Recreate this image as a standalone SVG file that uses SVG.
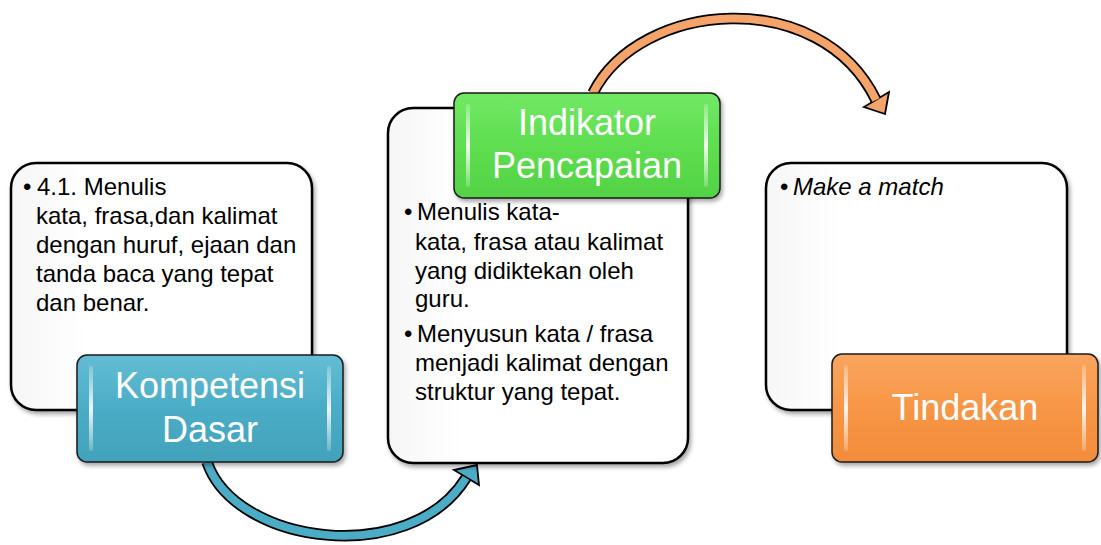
<svg xmlns="http://www.w3.org/2000/svg" width="1101" height="545" viewBox="0 0 1101 545">
<defs>
<filter id="sh" x="-10%" y="-10%" width="125%" height="130%">
<feDropShadow dx="2" dy="3" stdDeviation="2" flood-color="#000" flood-opacity="0.35"/>
</filter>
<linearGradient id="gBlue" x1="0" y1="0" x2="0" y2="1">
<stop offset="0" stop-color="#63BDD4"/><stop offset="0.5" stop-color="#4BACC6"/><stop offset="1" stop-color="#42A2BB"/>
</linearGradient>
<linearGradient id="gGreen" x1="0" y1="0" x2="0" y2="1">
<stop offset="0" stop-color="#72E865"/><stop offset="0.5" stop-color="#5EDE50"/><stop offset="1" stop-color="#53D245"/>
</linearGradient>
<linearGradient id="gOrange" x1="0" y1="0" x2="0" y2="1">
<stop offset="0" stop-color="#F9A55F"/><stop offset="0.5" stop-color="#F79646"/><stop offset="1" stop-color="#F28C3C"/>
</linearGradient>
<linearGradient id="gHi" x1="0" y1="0" x2="0" y2="1">
<stop offset="0" stop-color="#fff" stop-opacity="0.2"/><stop offset="0.5" stop-color="#fff" stop-opacity="0.9"/><stop offset="1" stop-color="#fff" stop-opacity="0.2"/>
</linearGradient>
<linearGradient id="gBox" x1="0" y1="0" x2="1" y2="0">
<stop offset="0" stop-color="#f6f6f6"/><stop offset="0.25" stop-color="#ffffff"/><stop offset="1" stop-color="#ffffff"/>
</linearGradient>
</defs>
<style>
.box{fill:url(#gBox);stroke:#000;stroke-width:2.5;filter:url(#sh)}
.lbl{stroke:#1a1a1a;stroke-width:1.5;filter:url(#sh)}
.hi{fill:url(#gHi)}
.t{font-family:"Liberation Sans",Arial,sans-serif;font-size:24px;fill:#000}
.lt{font-family:"Liberation Sans",Arial,sans-serif;font-size:36px;fill:#fff;text-anchor:middle}
.out{fill:none;stroke:#000;stroke-width:11.5}
.ab{fill:none;stroke:#4BACC6;stroke-width:8}
.ao{fill:none;stroke:#F4A46A;stroke-width:8}
</style>

<g id="connectors">
<g id="arrow-blue">
<path class="out" d="M207,462 C235,545 410,568 466,478"/>
<polygon points="477,465 454,470 479,485" fill="#4BACC6" stroke="#000" stroke-width="1.8"/>
<path class="ab" d="M207,462 C235,545 410,568 466,478"/>
</g>
<g id="arrow-orange">
<path class="out" d="M593,93 C640,0 820,-15 876,100"/>
<polygon points="885,114 864,107 889,92" fill="#F4A46A" stroke="#000" stroke-width="1.8"/>
<path class="ao" d="M593,93 C640,0 820,-15 876,100"/>
</g>
</g>

<g id="box-kd">
<rect class="box" x="11" y="163" width="301" height="247" rx="25"/>
<text class="t" x="23" y="195">•</text>
<text class="t" x="37" y="195">4.1. Menulis</text>
<text class="t" x="36" y="224">kata, frasa,dan kalimat</text>
<text class="t" x="36" y="253">dengan huruf, ejaan dan</text>
<text class="t" x="36" y="282">tanda baca yang tepat</text>
<text class="t" x="36" y="311">dan benar.</text>
</g>
<g id="label-kd">
<rect class="lbl" x="77" y="355" width="266" height="107" rx="10" fill="url(#gBlue)"/>
<rect class="hi" x="89" y="366" width="4" height="85" rx="2"/>
<rect class="hi" x="327" y="366" width="4" height="85" rx="2"/>
<text class="lt" x="210" y="398">Kompetensi</text>
<text class="lt" x="210" y="442">Dasar</text>
</g>

<g id="box-ip">
<rect class="box" x="388" y="108" width="300" height="355" rx="25"/>
<text class="t" x="404" y="220">•</text>
<text class="t" x="417" y="220">Menulis kata-</text>
<text class="t" x="415" y="250">kata, frasa atau kalimat</text>
<text class="t" x="415" y="279">yang didiktekan oleh</text>
<text class="t" x="415" y="307">guru.</text>
<text class="t" x="404" y="342">•</text>
<text class="t" x="417" y="342">Menyusun kata / frasa</text>
<text class="t" x="415" y="371">menjadi kalimat dengan</text>
<text class="t" x="415" y="400">struktur yang tepat.</text>
</g>
<g id="label-ip">
<rect class="lbl" x="454" y="93" width="266" height="105" rx="10" fill="url(#gGreen)"/>
<rect class="hi" x="466" y="104" width="4" height="83" rx="2"/>
<rect class="hi" x="704" y="104" width="4" height="83" rx="2"/>
<text class="lt" x="587" y="135">Indikator</text>
<text class="lt" x="587" y="178">Pencapaian</text>
</g>

<g id="box-t">
<rect class="box" x="766" y="163" width="301" height="247" rx="25"/>
<text class="t" x="780" y="195">•</text>
<text class="t" x="793" y="195" font-style="italic">Make a match</text>
</g>
<g id="label-t">
<rect class="lbl" x="832" y="354" width="266" height="108" rx="10" fill="url(#gOrange)"/>
<rect class="hi" x="844" y="365" width="4" height="86" rx="2"/>
<rect class="hi" x="1082" y="365" width="4" height="86" rx="2"/>
<text class="lt" x="965" y="420">Tindakan</text>
</g>
</svg>
